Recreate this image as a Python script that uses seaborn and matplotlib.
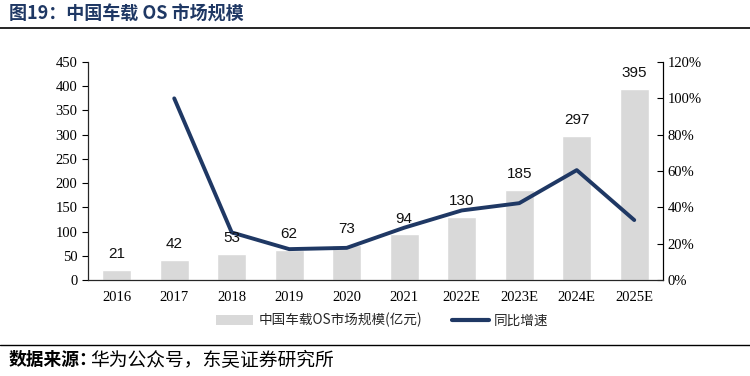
import numpy as np
import pandas as pd
import matplotlib.pyplot as plt
import seaborn as sns
from matplotlib.patches import Patch
from matplotlib.lines import Line2D
from matplotlib.ticker import PercentFormatter

years = ["2016", "2017", "2018", "2019", "2020", "2021", "2022E", "2023E", "2024E", "2025E"]
market_size = [21, 42, 53, 62, 73, 94, 130, 185, 297, 395]
yoy_growth = [np.nan, 1.00, 0.262, 0.170, 0.177, 0.288, 0.383, 0.423, 0.605, 0.330]

bar_label = "中国车载OS市场规模(亿元)"
line_label = "同比增速"
title = "图19：中国车载 OS 市场规模"
source_head = "数据来源："
source_body = "华为公众号，东吴证券研究所"

bar_color = "#D9D9D9"
line_color = "#1F3864"
serif = ["Liberation Serif", "DejaVu Serif"]
sans = ["Liberation Sans", "DejaVu Sans"]
cjk = ["Noto Sans CJK SC", "DejaVu Sans"]

sns.set_style("white")
plt.rcParams["font.family"] = serif

df = pd.DataFrame({"year": years, "size": market_size, "yoy": yoy_growth})
df["pos"] = range(len(df))

fig = plt.figure(figsize=(7.5, 3.76), dpi=100)
ax = fig.add_axes([0.1173, 0.2553, 0.7667, 0.5797])

sns.barplot(data=df, x="year", y="size", color=bar_color, width=0.5,
            saturation=1, ax=ax)

ax.set_ylim(0, 450)
ax.set_yticks(range(0, 451, 50))
ax.set_xlim(-0.5, len(years) - 0.5)
ax.set_xlabel("")
ax.set_ylabel("")
ax.tick_params(axis="both", labelsize=10.5, colors="black", length=4, direction="out")
ax.tick_params(axis="x", length=0, pad=8)
ax.tick_params(axis="y", left=True)
ax.spines["top"].set_visible(False)
for s in ["left", "bottom", "right"]:
    ax.spines[s].set_color("black")
    ax.spines[s].set_linewidth(0.8)

ax2 = ax.twinx()
sns.lineplot(data=df.dropna(), x="pos", y="yoy", color=line_color, linewidth=2.8,
             ax=ax2, legend=False)
ax2.set_ylim(0, 1.2)
ax2.set_yticks(np.arange(0, 1.21, 0.2))
ax2.yaxis.set_major_formatter(PercentFormatter(1.0, decimals=0))
ax2.set_xlim(-0.5, len(years) - 0.5)
ax2.set_ylabel("")
ax2.set_xlabel("")
ax2.tick_params(axis="y", labelsize=10.5, colors="black", length=4, direction="in", right=True)
ax2.spines["top"].set_visible(False)
ax2.spines["right"].set_color("black")
ax2.spines["right"].set_linewidth(0.8)

# bar value labels sit above the line
for i, v in enumerate(market_size):
    ax2.annotate(str(v), xy=(i, v), xycoords=ax.transData, xytext=(0, 11.5),
                 textcoords="offset points", ha="center", va="center",
                 fontsize=11, color="#111111", family=sans, zorder=5)

handles = [Patch(facecolor=bar_color, edgecolor="none"),
           Line2D([0], [0], color=line_color, linewidth=3)]
leg = fig.legend(handles, [bar_label, line_label], loc="center", ncol=2,
                 bbox_to_anchor=(0.51, 0.148), frameon=False,
                 prop={"family": cjk, "size": 9.8}, handlelength=2.7,
                 columnspacing=2.2, handletextpad=0.4)

fig.text(0.012, 0.962, title, ha="left", va="center", fontsize=13,
         fontweight="bold", color=line_color, family=cjk)
fig.add_artist(Line2D([0, 1], [0.925, 0.925], color="black", linewidth=1.2,
                      transform=fig.transFigure))
fig.add_artist(Line2D([0, 1], [0.083, 0.083], color="black", linewidth=1.0,
                      transform=fig.transFigure))
fig.text(0.012, 0.042, source_head, ha="left", va="center", fontsize=12.8,
         fontweight="bold", color="black", family=cjk)
fig.text(0.12, 0.042, source_body, ha="left", va="center", fontsize=13.5,
         color="black", family=cjk)

fig.savefig("out.png", dpi=100)
